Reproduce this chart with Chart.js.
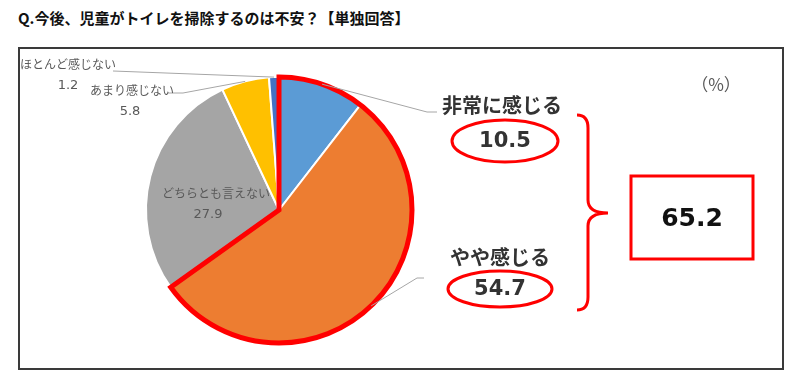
<!DOCTYPE html>
<html lang="ja">
<head>
<meta charset="utf-8">
<script src="https://cdn.jsdelivr.net/npm/chart.js@4.4.1/dist/chart.umd.min.js"></script>
<style>
  body { margin: 0; background: #fff; font-family: "Noto Sans CJK JP", sans-serif; }
  #wrap { position: relative; width: 800px; height: 379px; }
  #title { position: absolute; left: 18px; top: 7px; font-size: 15px; font-weight: bold; color: #111; white-space: nowrap; }
  #frame { position: absolute; left: 18px; top: 47px; width: 762px; height: 319px; border: 2px solid #3a3a3a; }
  canvas { position: absolute; left: 0; top: 0; }
</style>
</head>
<body>
<div id="wrap">
  <div id="title">Q.今後、児童がトイレを掃除するのは不安？【単独回答】</div>
  <div id="frame"></div>
  <canvas id="pie" width="800" height="379"></canvas>
</div>
<script>
// データ
const categories = ['非常に感じる', 'やや感じる', 'どちらとも言えない', 'あまり感じない', 'ほとんど感じない'];
const values = [10.5, 54.7, 27.9, 5.8, 1.2];
const sliceColors = ['#5b9bd5', '#ed7d31', '#a5a5a5', '#ffc000', '#4472c4'];
const unitLabel = '（%）';

// ラベル位置 (引き出し線の折れ点・終点、テキスト位置)
const calloutLayout = [
  { idx: 0, elbow: [427, 112], end: [437, 112], name: [502, 105], value: [505, 141], big: true, ell: [53, 21] },
  { idx: 1, elbow: [417, 278], end: [424, 278], name: [500, 257], value: [500, 289], big: true, ell: [52, 18] },
  { idx: 3, elbow: [183, 93], end: [168, 93], name: [132, 90], value: [130, 112] },
  { idx: 4, elbow: null, end: [113, 71], name: [68, 64], value: [68, 86] }
];

const FONT = '"Noto Sans CJK JP", sans-serif';
const NUMFONT = '"DejaVu Sans", sans-serif';

const calloutPlugin = {
  id: 'callouts',
  afterDatasetsDraw(chart) {
    const ctx = chart.ctx;
    const arcs = chart.getDatasetMeta(0).data;
    const edgePoint = (a) => {
      const m = (a.startAngle + a.endAngle) / 2;
      return { x: a.x + Math.cos(m) * a.outerRadius, y: a.y + Math.sin(m) * a.outerRadius };
    };

    ctx.save();

    // 「感じる」合計の赤枠
    ctx.beginPath();
    ctx.moveTo(arcs[0].x, arcs[0].y);
    ctx.arc(arcs[0].x, arcs[0].y, arcs[0].outerRadius, arcs[0].startAngle, arcs[1].endAngle);
    ctx.closePath();
    ctx.lineWidth = 5;
    ctx.lineJoin = 'miter';
    ctx.strokeStyle = '#ff0000';
    ctx.stroke();

    ctx.textAlign = 'center';
    ctx.textBaseline = 'middle';

    // 引き出し線とラベル
    calloutLayout.forEach(c => {
      const p = edgePoint(arcs[c.idx]);
      ctx.beginPath();
      ctx.moveTo(p.x, p.y);
      if (c.elbow) ctx.lineTo(c.elbow[0], c.elbow[1]);
      ctx.lineTo(c.end[0], c.end[1]);
      ctx.lineWidth = 1;
      ctx.strokeStyle = '#a6a6a6';
      ctx.stroke();

      const val = values[c.idx].toFixed(1);
      if (c.big) {
        ctx.fillStyle = '#333';
        ctx.font = 'bold 20px ' + FONT;
        ctx.fillText(categories[c.idx], c.name[0], c.name[1]);
        ctx.font = 'bold 21px ' + NUMFONT;
        ctx.fillText(val, c.value[0], c.value[1] + 1);
        ctx.beginPath();
        ctx.ellipse(c.value[0], c.value[1], c.ell[0], c.ell[1], 0, 0, Math.PI * 2);
        ctx.lineWidth = 3;
        ctx.strokeStyle = '#ff0000';
        ctx.stroke();
      } else {
        ctx.fillStyle = '#595959';
        ctx.font = '12px ' + FONT;
        ctx.fillText(categories[c.idx], c.name[0], c.name[1]);
        ctx.font = '13px ' + NUMFONT;
        ctx.fillText(val, c.value[0], c.value[1]);
      }
    });

    // 「どちらとも言えない」はスライス内
    const g = arcs[2];
    const gm = (g.startAngle + g.endAngle) / 2;
    const gx = g.x + Math.cos(gm) * g.outerRadius * 0.49;
    const gy = g.y + Math.sin(gm) * g.outerRadius * 0.49;
    ctx.fillStyle = '#595959';
    ctx.font = '12px ' + FONT;
    ctx.fillText(categories[2], gx, gy);
    ctx.font = '13px ' + NUMFONT;
    ctx.fillText(values[2].toFixed(1), gx - 8, gy + 21);

    // 中かっこ
    ctx.beginPath();
    ctx.moveTo(577, 115);
    ctx.quadraticCurveTo(588, 115, 588, 128);
    ctx.lineTo(588, 200);
    ctx.quadraticCurveTo(588, 213, 608, 213);
    ctx.quadraticCurveTo(588, 213, 588, 226);
    ctx.lineTo(588, 297);
    ctx.quadraticCurveTo(588, 310, 577, 310);
    ctx.lineWidth = 3;
    ctx.strokeStyle = '#ff0000';
    ctx.stroke();

    // 合計ボックス
    ctx.strokeRect(631, 176, 122, 83);
    ctx.fillStyle = '#111';
    ctx.font = 'bold 25px ' + NUMFONT;
    ctx.fillText((values[0] + values[1]).toFixed(1), 692, 219);

    ctx.fillStyle = '#595959';
    ctx.font = '17px ' + FONT;
    ctx.fillText(unitLabel, 716, 85);

    ctx.restore();
  }
};

new Chart(document.getElementById('pie'), {
  type: 'pie',
  data: {
    labels: categories,
    datasets: [{
      data: values,
      backgroundColor: sliceColors,
      borderColor: '#ffffff',
      borderWidth: 2
    }]
  },
  options: {
    responsive: false,
    animation: false,
    events: [],
    layout: { padding: { left: 145, right: 387, top: 76, bottom: 35 } },
    plugins: { legend: { display: false }, tooltip: { enabled: false } }
  },
  plugins: [calloutPlugin]
});
</script>
</body>
</html>
